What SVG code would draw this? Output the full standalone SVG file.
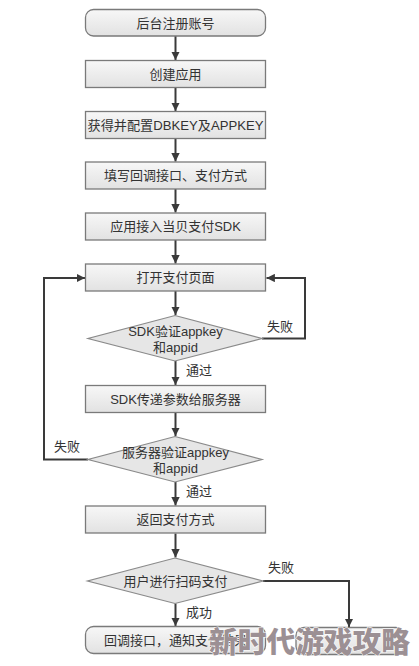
<svg xmlns="http://www.w3.org/2000/svg" width="419" height="666" viewBox="0 0 419 666">
<defs>
<linearGradient id="g" x1="0" y1="0" x2="0" y2="1">
<stop offset="0" stop-color="#f7f7f7"/>
<stop offset="1" stop-color="#e2e2e2"/>
</linearGradient>
<marker id="ah" viewBox="0 0 10 10" refX="10" refY="5" markerWidth="4.2" markerHeight="4.2" orient="auto" markerUnits="strokeWidth">
<path d="M0,0 L10,5 L0,10 z" fill="#3a3a3a"/>
</marker>
<style>
.box{fill:url(#g);stroke:#7a7a7a;stroke-width:1.3}
.dia{fill:#e6e6e6;stroke:#8a8a8a;stroke-width:1.2}
.t{font-family:"Liberation Sans","Noto Sans CJK SC",sans-serif;font-size:13px;fill:#333;text-anchor:middle}
.l{font-family:"Liberation Sans","Noto Sans CJK SC",sans-serif;font-size:13px;fill:#333}
.c{fill:none;stroke:#3a3a3a;stroke-width:2;marker-end:url(#ah)}
.wm{font-family:"Noto Sans CJK SC",sans-serif;font-size:29px;font-weight:900;fill:#9c9094;stroke:#ffffff;stroke-width:1;paint-order:stroke}
</style>
</defs>
<g id="connectors">
<path class="c" d="M175.5,36 V60"/>
<path class="c" d="M175.5,87.5 V111"/>
<path class="c" d="M175.5,138.5 V161.5"/>
<path class="c" d="M175.5,189 V212.5"/>
<path class="c" d="M175.5,240 V263.5"/>
<path class="c" d="M175.5,291 V315"/>
<path class="c" d="M175.5,361 V385"/>
<path class="c" d="M175.5,412.5 V436"/>
<path class="c" d="M175.5,482 V505.5"/>
<path class="c" d="M175.5,533.5 V557.5"/>
<path class="c" d="M175.5,603.5 V626"/>
<path class="c" d="M262,338.5 H305 V278 H266.5"/>
<path class="c" d="M88,459.5 H44 V278 H85"/>
<path class="c" d="M263,581 H349 V627"/>
<text class="l" x="267" y="331">失败</text>
<text class="l" x="54" y="451">失败</text>
<text class="l" x="186" y="374.5">通过</text>
<text class="l" x="186" y="495.5">通过</text>
<text class="l" x="268" y="571.5">失败</text>
<text class="l" x="186" y="617">成功</text>
</g>
<g id="n1"><rect class="box" x="85.5" y="9.5" width="180" height="26.5" rx="8"/><text class="t" x="175.5" y="27.5">后台注册账号</text></g>
<g id="n2"><rect class="box" x="85.5" y="60.5" width="180" height="27"/><text class="t" x="175.5" y="78.5">创建应用</text></g>
<g id="n3"><rect class="box" x="85.5" y="111.5" width="180" height="27"/><text class="t" x="175.5" y="129.5" textLength="176" lengthAdjust="spacingAndGlyphs">获得并配置DBKEY及APPKEY</text></g>
<g id="n4"><rect class="box" x="85.5" y="162" width="180" height="27"/><text class="t" x="175.5" y="180">填写回调接口、支付方式</text></g>
<g id="n5"><rect class="box" x="85.5" y="213" width="180" height="27"/><text class="t" x="175.5" y="231">应用接入当贝支付SDK</text></g>
<g id="n6"><rect class="box" x="85.5" y="264" width="180" height="27"/><text class="t" x="175.5" y="282">打开支付页面</text></g>
<g id="d1"><path class="dia" d="M175,315.5 L262,338.5 L175,361 L88,338.5 Z"/><text class="t" x="175.5" y="336">SDK验证appkey</text><text class="t" x="175.5" y="352">和appid</text></g>
<g id="n7"><rect class="box" x="85.5" y="385.5" width="180" height="27"/><text class="t" x="175.5" y="403.5">SDK传递参数给服务器</text></g>
<g id="d2"><path class="dia" d="M175,436.5 L262,459.5 L175,482 L88,459.5 Z"/><text class="t" x="175.5" y="457">服务器验证appkey</text><text class="t" x="175.5" y="473">和appid</text></g>
<g id="n8"><rect class="box" x="85.5" y="506" width="180" height="27"/><text class="t" x="175.5" y="524">返回支付方式</text></g>
<g id="d3"><path class="dia" d="M175,558 L263,581 L175,603.5 L87.5,581 Z"/><text class="t" x="175.5" y="585.5">用户进行扫码支付</text></g>
<g id="n9"><rect class="box" x="85.5" y="626.5" width="180" height="27" rx="8"/><text class="t" x="175.5" y="644.5">回调接口，通知支付结果</text></g>
<g id="n10"><rect class="box" x="296" y="627.5" width="108" height="27" rx="8"/></g>
<text class="wm" x="209" y="653" textLength="201" lengthAdjust="spacingAndGlyphs">新时代游戏攻略</text>
</svg>
